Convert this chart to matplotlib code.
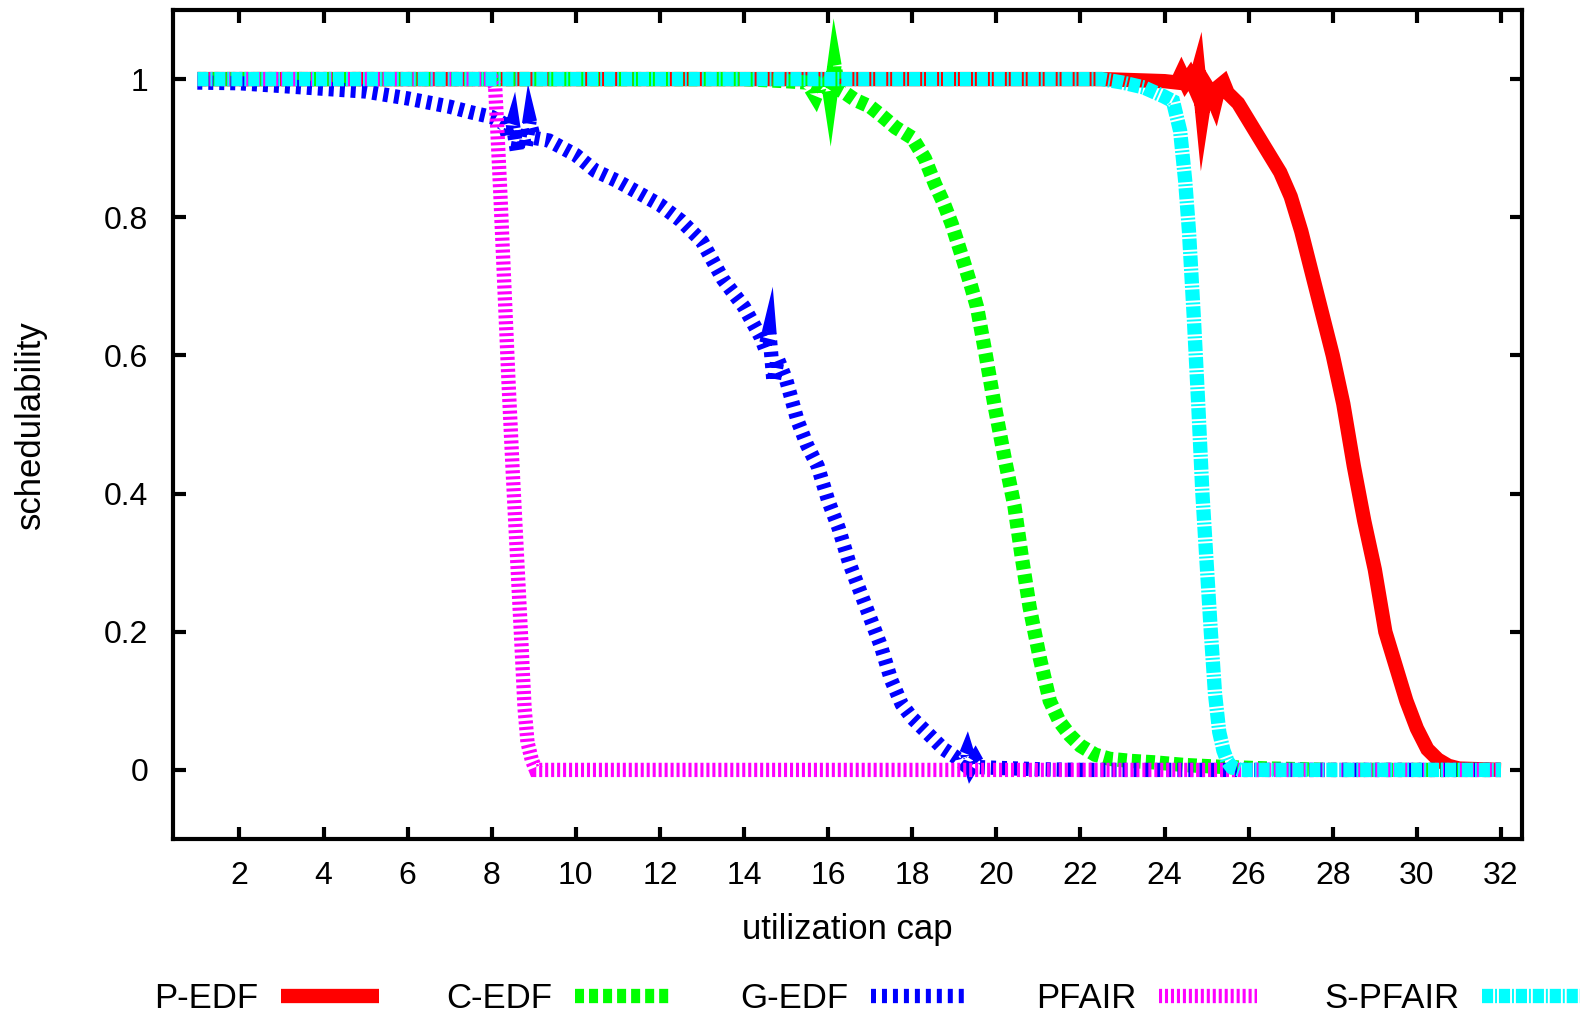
import matplotlib
matplotlib.use('Agg')
import matplotlib.pyplot as plt

# schedulability vs utilization cap, one pair of arrays per scheduler
pedf_x = [1, 22, 22.5, 23, 23.5, 24, 24.3, 24.4, 24.5, 24.6, 24.7, 24.8, 24.9, 25.0,
          25.1, 25.2, 25.3, 25.4, 25.5, 25.75, 26, 26.25, 26.5, 26.75, 27, 27.25,
          27.5, 27.75, 28, 28.25, 28.5, 28.75, 29, 29.25, 29.5, 29.75, 30, 30.25,
          30.5, 30.75, 31, 31.5, 32]
pedf_y = [1, 1, 1, 0.999, 0.998, 0.997, 0.995, 1.008, 0.995, 1.004, 0.99, 1.012, 0.95,
          0.99, 0.98, 0.965, 0.99, 0.995, 0.98, 0.965, 0.94, 0.915, 0.89, 0.865, 0.83,
          0.78, 0.72, 0.66, 0.6, 0.53, 0.44, 0.36, 0.29, 0.2, 0.15, 0.1, 0.06, 0.03,
          0.015, 0.006, 0.002, 0.001, 0]

cedf_x = [1, 14, 15, 15.5, 15.7, 15.8, 15.9, 16.0, 16.05, 16.15, 16.25, 16.4, 16.64,
          17.0, 17.27, 17.6, 18.0, 18.3, 18.54, 18.75, 18.94, 19.2, 19.4, 19.54,
          19.75, 19.95, 20.2, 20.43, 20.6, 20.79, 21.03, 21.27, 21.5, 21.75, 22.0,
          22.35, 22.7, 23.2, 23.74, 24.5, 25.5, 26.5, 28, 32]
cedf_y = [1, 1, 0.997, 0.995, 0.975, 0.99, 0.985, 0.995, 0.975, 1.02, 0.985, 0.98, 0.97,
          0.96, 0.947, 0.93, 0.915, 0.885, 0.848, 0.82, 0.79, 0.74, 0.70, 0.67, 0.6,
          0.53, 0.45, 0.382, 0.31, 0.236, 0.163, 0.1, 0.07, 0.05, 0.035, 0.022,
          0.016, 0.013, 0.011, 0.007, 0.004, 0.002, 0, 0]

gedf_x = [1, 2, 3, 4, 5, 6, 6.5, 7, 7.5, 8, 8.3, 8.4, 8.5, 8.6, 8.7, 8.8, 8.9, 9.0,
          9.36, 10, 10.47, 11, 11.5, 12, 12.5, 13, 13.5, 14, 14.4, 14.5, 14.6, 14.7,
          14.8, 15.0, 15.27, 15.5, 15.75, 16, 16.25, 16.5, 16.75, 17, 17.25, 17.5,
          17.75, 18, 18.25, 18.5, 18.75, 19, 19.2, 19.3, 19.4, 19.5, 19.6, 20,
          20.5, 21, 22, 32]
gedf_y = [0.995, 0.994, 0.99, 0.986, 0.982, 0.972, 0.966, 0.96, 0.952, 0.945, 0.935,
          0.915, 0.935, 0.895, 0.93, 0.9, 0.94, 0.915, 0.911, 0.89, 0.867, 0.852,
          0.835, 0.818, 0.795, 0.765, 0.71, 0.67, 0.626, 0.61, 0.635, 0.562, 0.595, 0.565,
          0.506, 0.47, 0.44, 0.39, 0.35, 0.30, 0.26, 0.22, 0.18, 0.13, 0.095, 0.075,
          0.06, 0.045, 0.03, 0.02, 0.01, 0.025, 0.005, 0.015, 0.004, 0.003, 0.002,
          0.001, 0, 0]

pfair_x = [1, 8.0, 8.08, 8.13, 8.2, 8.3, 8.4, 8.5, 8.6, 8.7, 8.78, 8.85, 8.95, 9.05, 32]
pfair_y = [1, 1, 0.99, 0.93, 0.84, 0.70, 0.56, 0.43, 0.31, 0.19, 0.09, 0.04, 0.015, 0, 0]

spfair_x = [1, 22.5, 23, 23.5, 23.98, 24.2, 24.37, 24.49, 24.58, 24.7, 24.8, 24.9,
            25.0, 25.1, 25.2, 25.3, 25.4, 25.5, 25.6, 25.8, 32]
spfair_y = [1, 1, 0.995, 0.988, 0.975, 0.968, 0.925, 0.853, 0.78, 0.65, 0.53, 0.40,
            0.30, 0.20, 0.11, 0.055, 0.028, 0.012, 0.004, 0, 0]

x_ticks = list(range(2, 33, 2))
y_ticks = [0, 0.2, 0.4, 0.6, 0.8, 1]
y_tick_labels = ['0', '0.2', '0.4', '0.6', '0.8', '1']

plt.rcParams['font.family'] = ['Liberation Sans', 'DejaVu Sans']
plt.rcParams['lines.scale_dashes'] = False

W, H = 1587, 1017
fig = plt.figure(figsize=(W / 100, H / 100), dpi=100)
ax = fig.add_axes([173 / W, 1 - 839 / H, (1522 - 173) / W, (839 - 10) / H])

series = [
    ('P-EDF', pedf_x, pedf_y, '#ff0000', '-'),
    ('C-EDF', cedf_x, cedf_y, '#00ff00', (0, (6.5, 3.6))),
    ('G-EDF', gedf_x, gedf_y, '#0000ff', (0, (3.6, 4.3))),
    ('PFAIR', pfair_x, pfair_y, '#ff00ff', (0, (2.2, 2.1))),
    ('S-PFAIR', spfair_x, spfair_y, '#00ffff', (0, (8, 1.4, 1.4, 1.4))),
]
for name, xs, ys, col, ls in series:
    ax.plot(xs, ys, color=col, linestyle=ls, lw=10.3, label=name,
            solid_joinstyle='miter', dash_joinstyle='miter', solid_capstyle='butt')

ax.set_xlim(0.42, 32.5)
ax.set_ylim(-0.1, 1.1)
ax.set_xticks(x_ticks)
ax.set_yticks(y_ticks)
ax.set_yticklabels(y_tick_labels)
ax.tick_params(direction='in', top=True, right=True, length=9, width=3,
               labelsize=23)
ax.tick_params(axis='y', pad=18)
ax.tick_params(axis='x', pad=16)
for sp in ax.spines.values():
    sp.set_linewidth(3)

ax.set_xlabel('utilization cap', fontsize=25)
ax.set_ylabel('schedulability', fontsize=25)
ax.xaxis.set_label_coords(0.5, (839 - 929) / 829)
ax.xaxis.label.set_va('center')
ax.yaxis.set_label_coords((30 - 173) / 1349, 0.5)
ax.yaxis.label.set_va('center')

fig.legend(loc='center', bbox_to_anchor=(867 / W, 1 - 999 / H), ncol=5,
           frameon=False, markerfirst=False, fontsize=25, handlelength=2.82,
           handletextpad=0.66, columnspacing=1.93, borderpad=0, borderaxespad=0)

fig.savefig('out.png', dpi=100)
